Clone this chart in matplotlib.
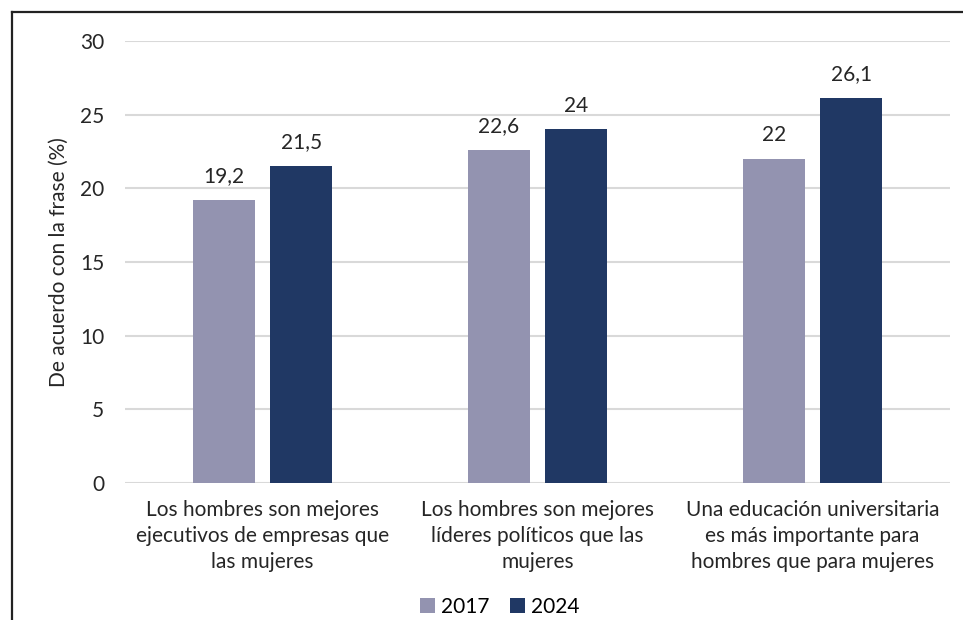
import numpy as np
import matplotlib.pyplot as plt
from matplotlib.lines import Line2D

plt.rcParams['font.family'] = ['Lato', 'DejaVu Sans']

categorias = ['Los hombres son mejores\nejecutivos de empresas que\nlas mujeres',
              'Los hombres son mejores\nlíderes políticos que las\nmujeres',
              'Una educación universitaria\nes más importante para\nhombres que para mujeres']
valores_2017 = [19.2, 22.6, 22.0]
valores_2024 = [21.5, 24.0, 26.1]
etiquetas_2017 = ['19,2', '22,6', '22']
etiquetas_2024 = ['21,5', '24', '26,1']

COLOR_2017 = '#9393B0'
COLOR_2024 = '#203864'
TEXTO = '#262626'
FS = 15

W, H = 963, 620
fig = plt.figure(figsize=(W / 100, H / 100), dpi=100)
ax = fig.add_axes([125 / W, 1 - 483 / H, 825 / W, 442 / H])

x = np.arange(len(categorias))
ancho = 0.225
sep = 0.0285
b1 = ax.bar(x - ancho / 2 - sep, valores_2017, ancho, color=COLOR_2017, label='2017', zorder=3)
b2 = ax.bar(x + ancho / 2 + sep, valores_2024, ancho, color=COLOR_2024, label='2024', zorder=3)

for barras, etiquetas in ((b1, etiquetas_2017), (b2, etiquetas_2024)):
    for b, t in zip(barras, etiquetas):
        ax.annotate(t, (b.get_x() + b.get_width() / 2, b.get_height()),
                    xytext=(0, 10), textcoords='offset points',
                    ha='center', va='bottom', fontsize=FS, color=TEXTO)

ax.set_xlim(-0.5, 2.5)
ax.set_ylim(0, 30)
ax.set_yticks(range(0, 31, 5))
ax.yaxis.grid(True, color='#D9D9D9', linewidth=1.5, zorder=0)
ax.set_axisbelow(True)
for s in ax.spines.values():
    s.set_visible(False)
ax.tick_params(axis='both', length=0, labelsize=FS, labelcolor=TEXTO)
ax.tick_params(axis='y', pad=15)
ax.tick_params(axis='x', pad=12)
ax.set_xticks(x)
ax.set_xticklabels(categorias, linespacing=1.4)
ax.set_ylabel('De acuerdo con la frase (%)', fontsize=FS, color=TEXTO, labelpad=8)

ax.legend(loc='center', bbox_to_anchor=(500 / W, 1 - 607 / H), bbox_transform=fig.transFigure,
          ncol=2, frameon=False, fontsize=FS, handlelength=0.7, handleheight=0.7,
          handletextpad=0.3, columnspacing=1.0)

# marco
fig.add_artist(Line2D([12 / W, 12 / W], [0, 1 - 12 / H], color='#222222', linewidth=1.6))
fig.add_artist(Line2D([12 / W, 1], [1 - 12 / H, 1 - 12 / H], color='#222222', linewidth=1.6))

fig.savefig('out.png', dpi=100)
